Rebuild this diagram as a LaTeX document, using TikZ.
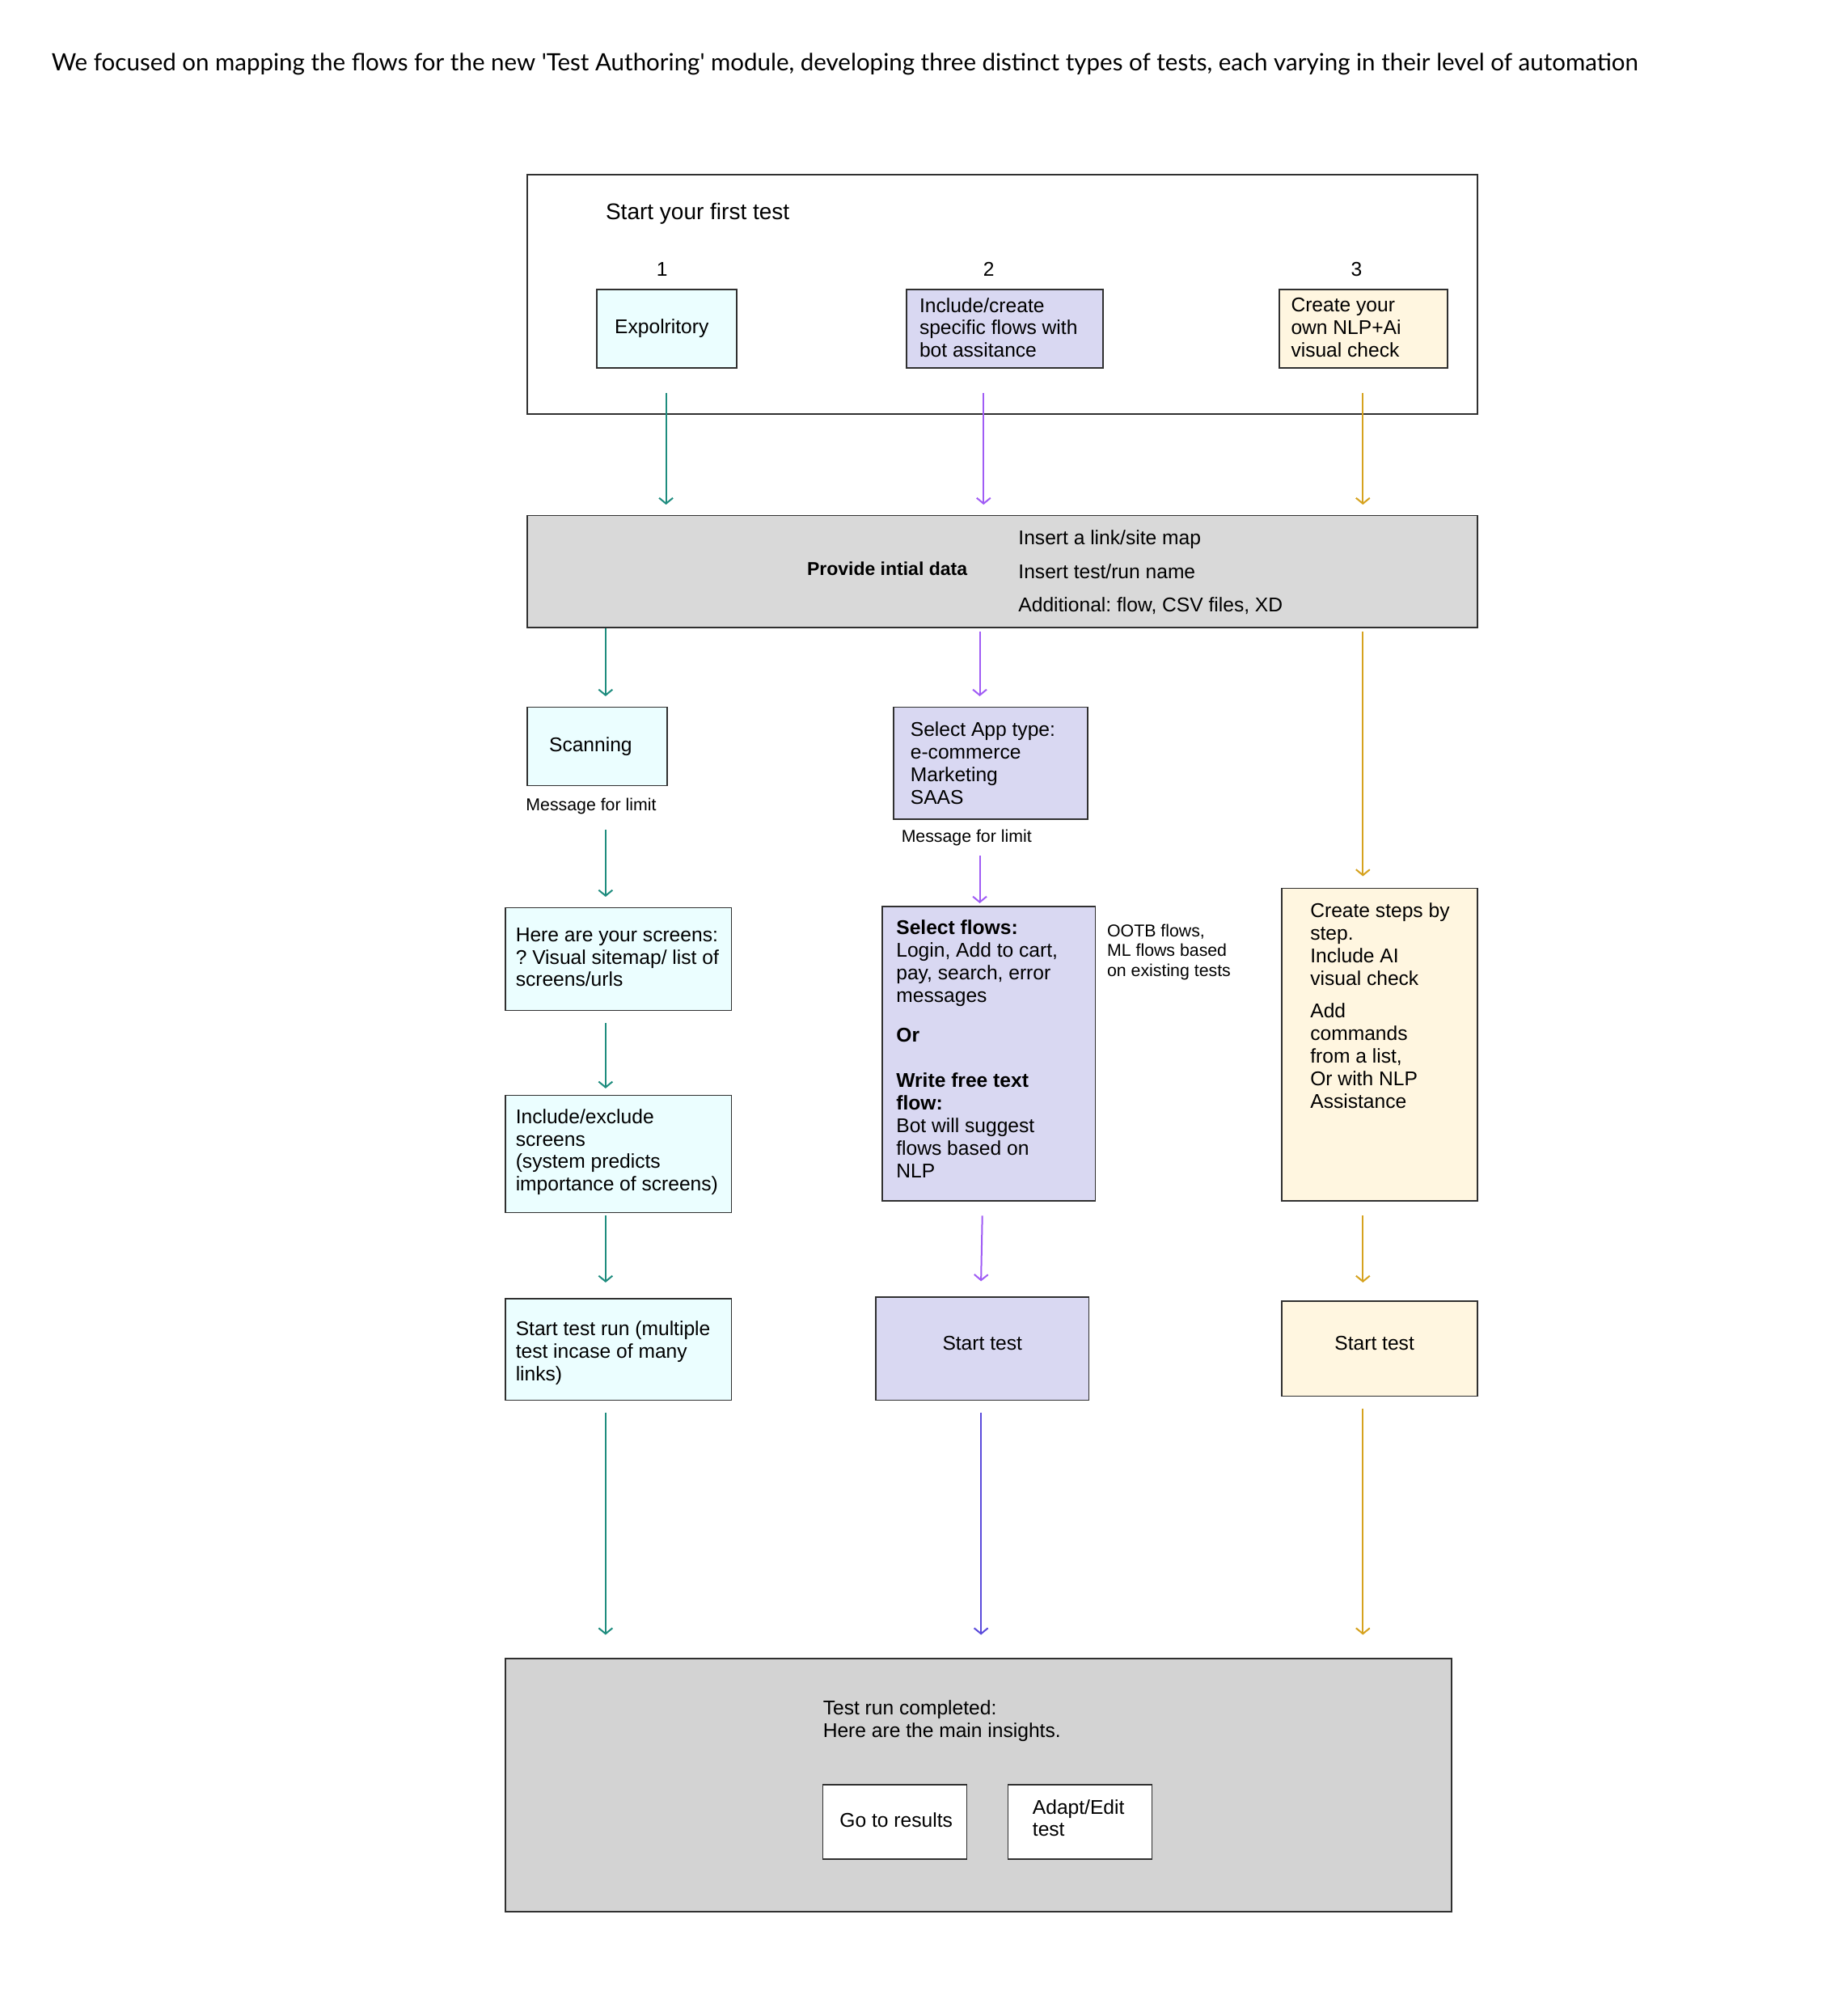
\documentclass[tikz,border=0pt]{standalone}
\usepackage{fontspec}
\setmainfont{Liberation Sans}
\newfontfamily\titlefont{Lato}
\frenchspacing
\usetikzlibrary{fit,calc,arrows.meta}
\definecolor{tealc}{HTML}{1E8C7E}
\definecolor{purpc}{HTML}{A05CF5}
\definecolor{goldc}{HTML}{D6A21E}
\definecolor{bluec}{HTML}{5B4BDB}
\definecolor{cyanf}{HTML}{EBFEFF}
\definecolor{lavf}{HTML}{D9D8F2}
\definecolor{creamf}{HTML}{FFF6E0}
\definecolor{grayf}{HTML}{D9D9D9}
\definecolor{grayg}{HTML}{D3D3D3}
\definecolor{bordc}{HTML}{303030}
\tikzset{
  box/.style={draw=bordc, line width=1.6pt, inner sep=0pt},
  arrbase/.style={line width=2pt, -{Straight Barb[length=7pt,width=17pt]}},
  arrT/.style={arrbase, draw=tealc},
  arrP/.style={arrbase, draw=purpc},
  arrG/.style={arrbase, draw=goldc},
  arrB/.style={arrbase, draw=bluec},
  txt/.style={inner sep=0pt, align=left, anchor=north west, font=\fontsize{24.6}{27.8}\selectfont},
  ln/.style={inner sep=0pt, anchor=west, font=\fontsize{24.6}{27.8}\selectfont},
  lnc/.style={inner sep=0pt, anchor=center, font=\fontsize{24.6}{27.8}\selectfont},
  small/.style={inner sep=0pt, align=left, anchor=north west, font=\fontsize{21.3}{24.6}\selectfont},
}
\begin{document}
\begin{tikzpicture}[x=1.59pt,y=-1.59pt]
\useasboundingbox (0,0) rectangle (1420,1568);
\fill[white] (0,0) rectangle (1420,1568);

% title
\node[inner sep=0pt, anchor=west, font=\titlefont\fontsize{29.5}{36}\selectfont] (title) at (40,50)
  {We focused on mapping the flows for the new 'Test Authoring' module, developing three distinct types of tests, each varying in their level of automation};

% boxes
\node[box, fit={(410,136) (1149,322)}] (top) {};
\node[box, fill=cyanf, fit={(464,225) (573,286)}] (exp) {};
\node[box, fill=lavf, fit={(705,225) (858,286)}] (b2) {};
\node[box, fill=creamf, fit={(995,225) (1126,286)}] (b3) {};
\node[box, fill=grayf, fit={(410,401) (1149,488)}] (data) {};
\node[box, fill=cyanf, fit={(410,550) (519,611)}] (scan) {};
\node[box, fill=lavf, fit={(695,550) (846,637)}] (app) {};
\node[box, fill=cyanf, fit={(393,706) (569,786)}] (scr) {};
\node[box, fill=cyanf, fit={(393,852) (569,943)}] (incl) {};
\node[box, fill=cyanf, fit={(393,1010) (569,1089)}] (run) {};
\node[box, fill=lavf, fit={(686,705) (852,934)}] (flows) {};
\node[box, fill=lavf, fit={(681,1009) (847,1089)}] (st2) {};
\node[box, fill=creamf, fit={(997,691) (1149,934)}] (steps) {};
\node[box, fill=creamf, fit={(997,1012) (1149,1086)}] (st3) {};
\node[box, fill=grayg, fit={(393,1290) (1129,1487)}] (done) {};
\node[box, fill=white, fit={(640,1388) (752,1446)}] (res) {};
\node[box, fill=white, fit={(784,1388) (896,1446)}] (adapt) {};

% texts
\node[inner sep=0pt, anchor=west, font=\fontsize{28}{32}\selectfont] (t-start) at (471,166.5) {Start your first test};
\node[lnc] (n1) at (515,209.5) {1};
\node[lnc] (n2) at (769,209.5) {2};
\node[lnc] (n3) at (1055,209.5) {3};
\node[ln] (t-exp) at (478,255.5) {Expolritory};
\node[txt] (t-b2) at (715,231.5) {Include/create\\specific flows with\\bot assitance};
\node[txt] (t-b3) at (1004,231.5) {Create your\\own NLP+Ai\\visual check};
\node[inner sep=0pt, font=\fontsize{23}{27}\selectfont\bfseries] (t-data) at (690,442.5) {Provide intial data};
\node[inner sep=0pt, align=left, anchor=north west, font=\fontsize{24.6}{41.3}\selectfont] (t-data2) at (792,412.5)
  {Insert a link/site map\\Insert test/run name\\Additional: flow, CSV files, XD};
\node[ln] (t-scan) at (427,580.5) {Scanning};
\node[small] (m1) at (409,620.5) {Message for limit};
\node[small] (m2) at (701,645.5) {Message for limit};
\node[txt] (t-app) at (708,561.5) {Select App type:\\e-commerce\\Marketing\\SAAS};
\node[txt] (t-scr) at (401,721.5) {Here are your screens:\\? Visual sitemap/ list of\\screens/urls};
\node[txt] (t-incl) at (401,862.5) {Include/exclude\\screens\\(system predicts\\importance of screens)};
\node[txt] (t-run) at (401,1027.5) {Start test run (multiple\\test incase of many\\links)};
\node[txt] (t-fl1) at (697,715.5) {\bfseries Select flows:\\Login, Add to cart,\\pay, search, error\\messages};
\node[txt] (t-fl2) at (697,799.5) {\bfseries Or};
\node[txt] (t-fl3) at (697,834.5) {\bfseries Write free text\\\bfseries flow:\\Bot will suggest\\flows based on\\NLP};
\node[small] (t-ootb) at (861,718.5) {OOTB flows,\\ML flows based\\on existing tests};
\node[txt] (t-st1) at (1019,702.5) {Create steps by\\step.\\Include AI\\visual check};
\node[txt] (t-st2) at (1019,780.5) {Add\\commands\\from a list,\\Or with NLP\\Assistance};
\node[lnc] (t-s2) at (764,1044.5) {Start test};
\node[lnc] (t-s3) at (1069,1044.5) {Start test};
\node[txt] (t-done) at (640,1322.5) {Test run completed:\\Here are the main insights.};
\node[lnc] (t-res) at (697,1415.5) {Go to results};
\node[txt] (t-adapt) at (803,1399.5) {Adapt/Edit\\test};

% column coordinates
\coordinate (cA) at (471,0);
\coordinate (cE) at (518,0);
\coordinate (cP) at (765,0);
\coordinate (cQ) at (762,0);
\coordinate (cR) at (764,0);
\coordinate (cS) at (763,0);
\coordinate (cG) at (1060,0);

% arrows top -> data
\draw[arrT] ($(cE |- exp.south)+(0,19)$) -- ($(cE |- data.north)+(0,-8)$);
\draw[arrP] ($(cP |- b2.south)+(0,19)$) -- ($(cP |- data.north)+(0,-8)$);
\draw[arrG] ($(cG |- b3.south)+(0,19)$) -- ($(cG |- data.north)+(0,-8)$);
% data -> second row
\draw[arrT] (cA |- data.south) -- ($(cA |- scan.north)+(0,-8)$);
\draw[arrP] ($(cQ |- data.south)+(0,3)$) -- ($(cQ |- app.north)+(0,-8)$);
\draw[arrG] ($(cG |- data.south)+(0,3)$) -- ($(cG |- steps.north)+(0,-9)$);
% teal column
\draw[arrT] ($(cA |- scan.south)+(0,34)$) -- ($(cA |- scr.north)+(0,-8)$);
\draw[arrT] ($(cA |- scr.south)+(0,9)$) -- ($(cA |- incl.north)+(0,-5)$);
\draw[arrT] ($(cA |- incl.south)+(0,2)$) -- ($(cA |- run.north)+(0,-12)$);
\draw[arrT] ($(cA |- run.south)+(0,9)$) -- ($(cA |- done.north)+(0,-18)$);
% purple column
\draw[arrP] ($(cQ |- app.south)+(0,28)$) -- ($(cQ |- flows.north)+(0,-2)$);
\draw[arrP] ($(cR |- flows.south)+(0,11)$) -- ($(cS |- st2.north)+(0,-12)$);
\draw[arrB] ($(cS |- st2.south)+(0,9)$) -- ($(cS |- done.north)+(0,-18)$);
% gold column
\draw[arrG] ($(cG |- steps.south)+(0,11)$) -- ($(cG |- st3.north)+(0,-14)$);
\draw[arrG] ($(cG |- st3.south)+(0,9)$) -- ($(cG |- done.north)+(0,-18)$);
\end{tikzpicture}
\end{document}
